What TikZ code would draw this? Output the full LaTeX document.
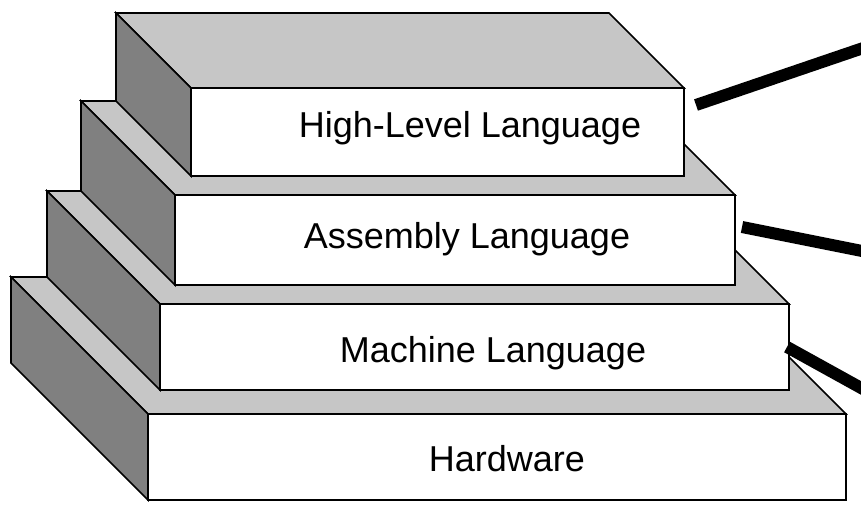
\documentclass[tikz,border=0pt]{standalone}
\usepackage{fontspec}
\setmainfont{Liberation Sans}
\definecolor{topgray}{RGB}{198,198,198}
\definecolor{sidegray}{RGB}{128,128,128}
\tikzset{
  topface/.style={fill=topgray, draw=black, line width=1.6pt, line join=miter},
  sideface/.style={fill=sidegray, draw=black, line width=1.6pt, line join=miter},
  frontface/.style={fill=white, draw=black, line width=2pt, line join=miter},
  layertext/.style={anchor=base, inner sep=0pt, font=\fontsize{36}{40}\selectfont},
  connector/.style={line width=12pt, line cap=butt},
}
% #1 xl, #2 xr, #3 yt, #4 yb, #5 depth
\newcommand\layerslab[5]{%
  \filldraw[topface] (#1,#3) -- (#2,#3) -- ({#2-#5},{#3-#5}) -- ({#1-#5},{#3-#5}) -- cycle;
  \filldraw[sideface] (#1,#3) -- (#1,#4) -- ({#1-#5},{#4-#5}) -- ({#1-#5},{#3-#5}) -- cycle;
  \filldraw[frontface] (#1,#3) rectangle (#2,#4);
}
\begin{document}
\begin{tikzpicture}[x=1pt,y=-1pt]
  \clip (0,0) rectangle (861,504);
  \fill[white] (0,0) rectangle (861,504);
  % layers, bottom first
  \layerslab{148}{846}{414}{500}{137}
  \layerslab{160}{789}{304}{390}{113}
  \layerslab{175}{735}{195}{285}{94}
  \layerslab{191}{684}{88}{176}{75}
  % labels
  \node[layertext] (hll) at (470,137) {High-Level Language};
  \node[layertext] (asm) at (467,248) {Assembly Language};
  \node[layertext] (mach) at (493,362) {Machine Language};
  \node[layertext] (hw) at (507,471) {Hardware};
  % connector ends
  \coordinate (c1a) at (696,105);
  \coordinate (c1b) at (872,45);
  \coordinate (c2a) at (742,227);
  \coordinate (c2b) at (872,253);
  \coordinate (c3a) at (787,347);
  \coordinate (c3b) at (872,394);
  \draw[connector] (c1a) -- (c1b);
  \draw[connector] (c2a) -- (c2b);
  \draw[connector] (c3a) -- (c3b);
\end{tikzpicture}
\end{document}
